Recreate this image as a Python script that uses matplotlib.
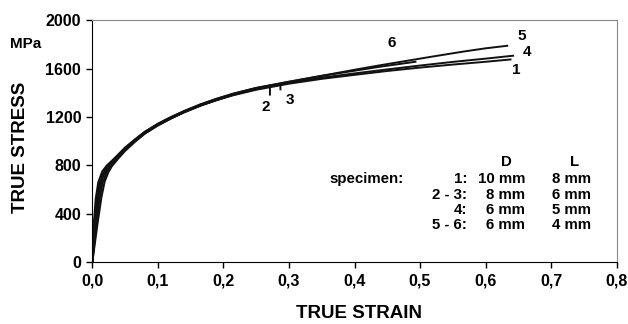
import matplotlib
matplotlib.use("Agg")
import matplotlib.pyplot as plt

plt.rcParams['font.family'] = ['Liberation Sans', 'DejaVu Sans']
plt.rcParams['font.weight'] = 'bold'

# Curvas tension-deformacion (deformacion verdadera, MPa)
strain_1 = [0, 0.004, 0.008, 0.012, 0.018, 0.025, 0.03, 0.04, 0.05, 0.065, 0.08, 0.1, 0.12, 0.14,
            0.165, 0.19, 0.215, 0.25, 0.3, 0.35, 0.4, 0.45, 0.5, 0.55, 0.6, 0.638]
stress_1 = [0, 300, 520, 650, 730, 790, 825, 880, 935, 1005, 1070, 1135, 1190, 1240,
            1295, 1340, 1380, 1425, 1475, 1515, 1548, 1580, 1608, 1633, 1656, 1675]

strain_2 = [0, 0.006, 0.011, 0.016, 0.022, 0.028, 0.04, 0.05, 0.065, 0.08, 0.1, 0.12, 0.14,
            0.165, 0.19, 0.215, 0.25, 0.271, 0.271]
stress_2 = [0, 300, 520, 660, 745, 800, 872, 928, 1000, 1065, 1132, 1188, 1238,
            1293, 1340, 1382, 1430, 1452, 1385]

strain_3 = [0, 0.003, 0.006, 0.01, 0.016, 0.022, 0.03, 0.04, 0.05, 0.065, 0.08, 0.1, 0.12, 0.14,
            0.165, 0.19, 0.215, 0.25, 0.287, 0.287]
stress_3 = [0, 300, 500, 640, 730, 785, 830, 885, 940, 1010, 1073, 1140, 1195, 1245,
            1300, 1346, 1388, 1436, 1472, 1428]

strain_4 = [0, 0.008, 0.014, 0.019, 0.025, 0.03, 0.04, 0.05, 0.065, 0.08, 0.1, 0.12, 0.14,
            0.165, 0.19, 0.215, 0.25, 0.3, 0.35, 0.4, 0.45, 0.5, 0.55, 0.6, 0.642]
stress_4 = [0, 320, 540, 670, 750, 795, 860, 920, 995, 1062, 1130, 1188, 1240,
            1296, 1343, 1385, 1432, 1482, 1525, 1560, 1593, 1625, 1655, 1682, 1706]

strain_5 = [0, 0.005, 0.01, 0.015, 0.02, 0.03, 0.04, 0.05, 0.065, 0.08, 0.1, 0.12, 0.14,
            0.165, 0.19, 0.215, 0.25, 0.3, 0.35, 0.4, 0.44, 0.48, 0.52, 0.566, 0.6, 0.633]
stress_5 = [0, 320, 560, 690, 760, 835, 890, 945, 1013, 1077, 1143, 1198, 1248,
            1303, 1350, 1392, 1440, 1492, 1540, 1590, 1628, 1664, 1700, 1740, 1767, 1788]

strain_6 = [0, 0.002, 0.005, 0.009, 0.015, 0.022, 0.03, 0.04, 0.05, 0.065, 0.08, 0.1, 0.12, 0.14,
            0.165, 0.19, 0.215, 0.25, 0.3, 0.35, 0.4, 0.44, 0.493]
stress_6 = [0, 300, 520, 660, 750, 800, 840, 893, 948, 1015, 1078, 1145, 1200, 1250,
            1305, 1352, 1393, 1440, 1490, 1540, 1582, 1616, 1656]

curvas = [(strain_1, stress_1), (strain_2, stress_2), (strain_3, stress_3),
          (strain_4, stress_4), (strain_5, stress_5), (strain_6, stress_6)]

# Etiquetas de cada curva (texto, deformacion, tension)
etiquetas = [("1", 0.647, 1590), ("2", 0.264, 1285), ("3", 0.302, 1340),
             ("4", 0.663, 1735), ("5", 0.655, 1868), ("6", 0.457, 1815)]

# Tabla de probetas
filas_id = ["1:", "2 - 3:", "4:", "5 - 6:"]
filas_D = ["10 mm", "8 mm", "6 mm", "6 mm"]
filas_L = ["8 mm", "6 mm", "5 mm", "4 mm"]

xticks = [0, 0.1, 0.2, 0.3, 0.4, 0.5, 0.6, 0.7, 0.8]
xtick_labels = ["0,0", "0,1", "0,2", "0,3", "0,4", "0,5", "0,6", "0,7", "0,8"]
yticks = [0, 400, 800, 1200, 1600, 2000]

fig = plt.figure(figsize=(6.28, 3.24), dpi=100)
ax = fig.add_axes([0.147, 0.190, 0.835, 0.748])

for x, y in curvas:
    ax.plot(x, y, color="#111111", lw=1.4, solid_joinstyle="round")

for texto, x, y in etiquetas:
    ax.text(x, y, texto, fontsize=11, ha="center", va="center")

# Tabla
ax.text(0.632, 830, "D", fontsize=10.8, ha="center", va="center")
ax.text(0.735, 830, "L", fontsize=10.8, ha="center", va="center")
ax.text(0.475, 685, "specimen:", fontsize=10.8, ha="right", va="center")
filas_y = [685, 556, 432, 308]
for i in range(len(filas_id)):
    ax.text(0.572, filas_y[i], filas_id[i], fontsize=10.8, ha="right", va="center")
    ax.text(0.660, filas_y[i], filas_D[i], fontsize=10.8, ha="right", va="center")
    ax.text(0.761, filas_y[i], filas_L[i], fontsize=10.8, ha="right", va="center")

ax.set_xlim(0, 0.8)
ax.set_ylim(0, 2000)
ax.set_xticks(xticks)
ax.set_xticklabels(xtick_labels)
ax.set_yticks(yticks)
ax.tick_params(axis="both", direction="out", length=4, width=1, labelsize=11.5, pad=4)
ax.spines["top"].set_color("#888888")
ax.spines["right"].set_color("#888888")

fig.text(359 / 628, 1 - 314 / 324, "TRUE STRAIN", fontsize=13.5, ha="center", va="center")
fig.text(21 / 628, 1 - 147 / 324, "TRUE STRESS", fontsize=13.5, ha="center", va="center",
         rotation=90)
fig.text(10 / 628, 1 - 44 / 324, "MPa", fontsize=11, ha="left", va="center")

fig.savefig("out.png", dpi=100)
